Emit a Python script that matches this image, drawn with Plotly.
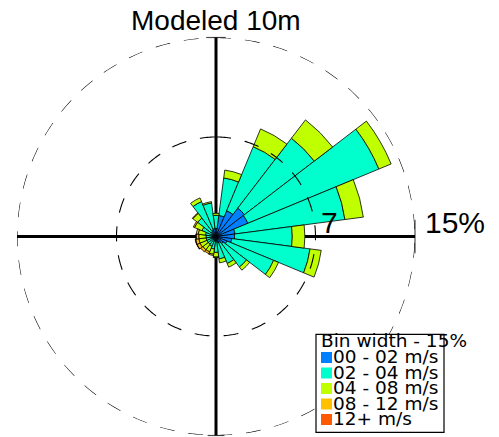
import numpy as np
import plotly.graph_objects as go

# ---- data (percent frequency per direction bin) ----
directions = [0, 15, 30, 45, 60, 75, 90, 105, 120, 135, 150, 165,
              180, 195, 210, 225, 240, 255, 270, 285, 300, 315, 330, 345]
spd_00_02 = [0.6, 1.6, 2.1, 2.7, 2.6, 1.45, 1.4, 1.2, 0.9, 0.7, 0.5, 0.45,
             0.4, 0.35, 0.3, 0.3, 0.3, 0.3, 0.3, 0.3, 0.35, 0.45, 0.55, 0.6]
spd_02_04 = [1.0, 2.85, 5.23, 6.64, 10.69, 8.35, 4.35, 5.95, 3.8, 2.2, 1.7, 1.25,
             0.8, 0.6, 0.5, 0.45, 0.45, 0.45, 0.45, 0.5, 0.8, 1.3, 2.3, 1.95]
spd_04_08 = [0.15, 0.6, 1.45, 1.74, 1.0, 1.4, 0.95, 0.85, 0.4, 0.3, 0.3, 0.3,
             0.35, 0.4, 0.45, 0.5, 0.55, 0.55, 0.55, 0.55, 0.6, 0.45, 0.3, 0.1]
spd_08_12 = [0, 0, 0, 0, 0, 0, 0, 0, 0, 0, 0, 0,
             0.05, 0.1, 0.15, 0.2, 0.25, 0.25, 0.2, 0.15, 0.1, 0.05, 0, 0]
spd_12p = [0, 0, 0, 0, 0, 0, 0, 0, 0, 0, 0, 0,
           0, 0, 0, 0, 0.02, 0.03, 0.02, 0, 0, 0, 0, 0]

series = [spd_00_02, spd_02_04, spd_04_08, spd_08_12, spd_12p]
labels = ["00 - 02 m/s", "02 - 04 m/s", "04 - 08 m/s", "08 - 12 m/s", "12+ m/s"]
colors = ["#0080FF", "#00FFCC", "#C0FF00", "#FFC000", "#FF5A00"]
rings = [7.5, 15]
title_text = "Modeled 10m"
legend_title = "Bin width - 15%"

# page body has an 8px margin: work in window pixels, convert to figure paper
OFF = 8
W, H = 491, 429
CX, CY, R = 216, 236.5, 199

def px(x):
    return (x - OFF) / W

def py(y):
    return 1 - (y - OFF) / H

fig = go.Figure()

for vals, name, col in zip(series, labels, colors):
    fig.add_trace(go.Barpolar(
        r=vals, theta=directions, width=15, name=name,
        marker=dict(color=col, line=dict(color="black", width=0.8)),
        showlegend=False, hoverinfo="skip"))

# dashed rings drawn above the bars
ring_theta = np.arange(0, 361, 1)
for rv in rings:
    fig.add_trace(go.Scatterpolar(
        r=[rv] * len(ring_theta), theta=ring_theta, mode="lines",
        line=dict(color="black", width=1.1, dash="15px,14px"),
        cliponaxis=False, showlegend=False, hoverinfo="skip"))

# end ticks of the cross axes
fig.add_trace(go.Scatterpolar(
    r=[rings[-1]] * 3, theta=[0, 90, 180], mode="markers",
    marker=dict(symbol=["line-ew", "line-ns", "line-ew"], size=[14, 24, 12],
                color="black", line=dict(color="black", width=1.2)),
    cliponaxis=False, showlegend=False, hoverinfo="skip"))

shapes = [dict(type="rect", xref="paper", yref="paper",
               x0=px(316), x1=px(444), y0=py(432.3), y1=py(334.3),
               fillcolor="white", line=dict(color="black", width=1.2), layer="above")]

annotations = [
    dict(text=title_text, x=px(CX), y=py(20.3), xref="paper", yref="paper",
         xanchor="center", yanchor="middle", showarrow=False,
         font=dict(family="Liberation Sans, Arial", size=28, color="black")),
    dict(text="15%", x=px(454.7), y=py(222.9), xref="paper", yref="paper",
         xanchor="center", yanchor="middle", showarrow=False,
         font=dict(family="Liberation Sans, Arial", size=30, color="black")),
    dict(text="7", x=px(329), y=py(222.6), xref="paper", yref="paper",
         xanchor="center", yanchor="middle", showarrow=False,
         font=dict(family="Liberation Sans, Arial", size=30, color="black")),
    dict(text=legend_title, x=px(318.5), y=py(340.2), xref="paper", yref="paper",
         xanchor="left", yanchor="middle", showarrow=False,
         font=dict(family="DejaVu Sans", size=18.5, color="black")),
]

baselines = [363, 378.5, 394, 409.5, 425]
for lab, col, bl in zip(labels, colors, baselines):
    annotations.append(dict(text=lab, x=px(331), y=py(bl - 0.35 * 18.5),
                            xref="paper", yref="paper", xanchor="left",
                            yanchor="middle", showarrow=False,
                            font=dict(family="DejaVu Sans", size=18.5, color="black")))
    shapes.append(dict(type="rect", xref="paper", yref="paper",
                       x0=px(321), x1=px(332), y0=py(bl), y1=py(bl - 11),
                       fillcolor=col, line=dict(width=0), layer="above"))

fig.update_layout(
    width=W, height=H, margin=dict(l=0, r=0, t=0, b=0),
    paper_bgcolor="white", plot_bgcolor="white",
    polar=dict(
        domain=dict(x=[px(CX - R), px(CX + R)], y=[py(CY + R), py(CY - R)]),
        bgcolor="white", barmode="stack", bargap=0,
        radialaxis=dict(range=[0, rings[-1]], visible=False),
        angularaxis=dict(rotation=90, direction="clockwise", tickmode="array",
                         tickvals=[0, 90, 180, 270], showgrid=True, gridcolor="black",
                         gridwidth=3, showline=False, ticks="", showticklabels=False),
    ),
    shapes=shapes, annotations=annotations,
)

fig.write_html("out.html")
